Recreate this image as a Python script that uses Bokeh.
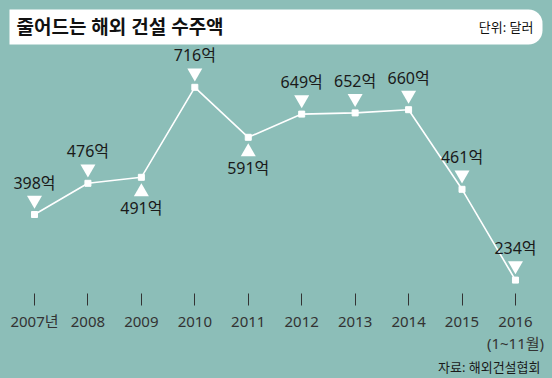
from bokeh.plotting import figure
from bokeh.models import Range1d, FixedTicker, BoxAnnotation, Label, ColumnDataSource, Title
from bokeh.core.properties import value
from bokeh.embed import file_html
from bokeh.resources import INLINE

# ---- data ----
years = [2007, 2008, 2009, 2010, 2011, 2012, 2013, 2014, 2015, 2016]
orders = [398, 476, 491, 716, 591, 649, 652, 660, 461, 234]   # 억 달러
label_dir = [1, 1, -1, 1, -1, 1, 1, 1, 1, 1]                 # 1 = marker above, -1 = below
tick_labels = {2007: "2007년", 2016: "2016\n(1~11월)"}
title_text = "줄어드는 해외 건설 수주액"
unit_text = "단위: 달러"
source_text = "자료: 해외건설협회"

BG = "#8cbeb8"
FONT = "'Noto Sans', 'Noto Sans CJK KR', sans-serif"
TXT = "#1a1a1a"

px_per_unit = 0.4
tri_off = 14.5 / px_per_unit

p = figure(width=552, height=378, output_backend="svg", toolbar_location=None,
           x_range=Range1d(2006.364, 2016.693), y_range=Range1d(200.5, 933),
           min_border_left=0, min_border_right=0, min_border_top=0, min_border_bottom=85)
p.background_fill_color = BG
p.border_fill_color = BG
p.outline_line_color = None
p.grid.visible = False
p.yaxis.visible = False

ax = p.xaxis[0]
ax.ticker = FixedTicker(ticks=years)
ax.major_label_overrides = tick_labels
ax.axis_line_color = None
ax.major_tick_in = 0
ax.major_tick_out = 12
ax.major_tick_line_color = "#333333"
ax.minor_tick_line_color = None
ax.major_label_text_font = FONT
ax.major_label_text_font_size = "15px"
ax.major_label_text_color = "#333333"
ax.major_label_text_line_height = 1.1
ax.major_label_standoff = 5

p.add_layout(Title(text=source_text, align="right", offset=12, standoff=0,
                   text_font=FONT, text_font_size="13px", text_font_style="normal",
                   text_color=TXT), "below")

# title box
p.add_layout(BoxAnnotation(left=9, right=542, top=284, bottom=249,
                           left_units="screen", right_units="screen",
                           top_units="screen", bottom_units="screen",
                           fill_color="white", fill_alpha=1, line_color=None,
                           border_radius=(0, 14, 14, 0), level="underlay"))
p.add_layout(Label(x=16, y=267, x_units="screen", y_units="screen", text=title_text,
                   text_font=FONT, text_font_size="19px", text_font_style="bold",
                   text_color="#111111", text_baseline="middle"))
p.add_layout(Label(x=533, y=267, x_units="screen", y_units="screen", text=unit_text,
                   text_font=FONT, text_font_size="13px", text_color="#111111",
                   text_align="right", text_baseline="middle"))

src = ColumnDataSource(dict(
    x=years, y=orders,
    tri_y=[v + d * tri_off for v, d in zip(orders, label_dir)],
    marker=["inverted_triangle" if d > 0 else "triangle" for d in label_dir],
    lab=[f"{v}억" for v in orders],
    loff=[-32 if d > 0 else 31 for d in label_dir],
))

p.line("x", "y", source=src, line_color="white", line_width=1.6)
p.scatter("x", "y", source=src, marker="square", size=6, fill_color="white", line_color="white")
p.scatter("x", "tri_y", source=src, marker="marker", size=15, fill_color="white", line_color=None)
p.text("x", "y", text="lab", source=src, y_offset="loff", text_align="center",
       text_baseline="middle", text_font=value(FONT), text_font_size="16px", text_color=TXT)

html = file_html(p, INLINE)
html = html.replace("</head>", "<style>html,body{background:%s;}</style></head>" % BG, 1)
open("out.html", "w").write(html)
